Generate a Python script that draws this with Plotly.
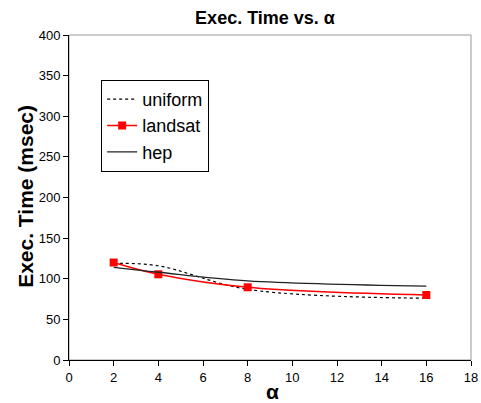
import plotly.graph_objects as go

alpha = [2, 4, 8, 16]
uniform = [119, 116, 87, 76]
landsat = [120, 105.5, 89.5, 80]
hep = [114, 108, 97.5, 91]
x_ticks = list(range(0, 19, 2))
y_ticks = list(range(0, 401, 50))

fig = go.Figure()
fig.add_trace(go.Scatter(x=alpha, y=uniform, name="uniform", mode="lines",
                         line=dict(color="black", width=1.2, dash="dot", shape="spline")))
fig.add_trace(go.Scatter(x=alpha, y=landsat, name="landsat", mode="lines+markers",
                         line=dict(color="red", width=1.5, shape="spline"),
                         marker=dict(symbol="square", size=8, color="red")))
fig.add_trace(go.Scatter(x=alpha, y=hep, name="hep", mode="lines",
                         line=dict(color="#222222", width=1.3, shape="spline")))

fig.add_shape(type="rect", xref="paper", yref="paper", x0=0, y0=0, x1=1, y1=1,
              line=dict(color="#999999", width=1), layer="below")

fig.add_annotation(text="<b>α</b>", xref="paper", yref="paper", x=0.505, y=-0.097,
                   xanchor="center", yanchor="middle", showarrow=False,
                   font=dict(size=21))
fig.add_annotation(text="<b>Exec. Time (msec)</b>", xref="paper", yref="paper",
                   x=-0.107, y=0.505, xanchor="center", yanchor="middle",
                   textangle=-90, showarrow=False, font=dict(size=21))

fig.update_layout(
    width=481, height=403,
    margin=dict(l=69, r=10, t=35, b=43),
    paper_bgcolor="white", plot_bgcolor="white",
    font=dict(family="Liberation Sans, Arial, sans-serif", color="black", size=13),
    title=dict(text="<b>Exec. Time vs. α</b>", x=0.551, xanchor="center", y=0.955,
               yanchor="middle", font=dict(size=18)),
    xaxis=dict(range=[0, 18], tickvals=x_ticks, showgrid=False,
               zeroline=False, showline=True, linecolor="black", linewidth=1,
               ticks="outside", ticklen=5, tickcolor="black", automargin=False),
    yaxis=dict(range=[0, 400], tickvals=y_ticks, showgrid=False,
               zeroline=False, showline=True, linecolor="black", linewidth=1,
               ticks="outside", ticklen=5, tickcolor="black", automargin=False),
    legend=dict(x=0.08, y=0.862, xanchor="left", yanchor="top",
                bordercolor="black", borderwidth=1, bgcolor="white",
                font=dict(size=18), tracegroupgap=0, itemwidth=30),
    showlegend=True,
)

fig.write_html("out.html", config={"displayModeBar": False},
               post_script="document.body.style.margin='0';")
